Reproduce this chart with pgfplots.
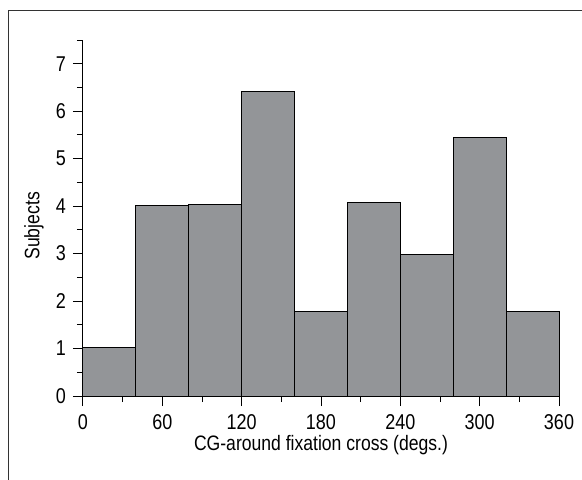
\documentclass[border=0pt]{standalone}
\usepackage{fontspec}
\setmainfont{Liberation Sans}[FakeStretch=0.84]
\usepackage{pgfplots}
\pgfplotsset{compat=1.18}
\definecolor{barfill}{HTML}{939598}
\definecolor{framegray}{HTML}{333333}
\begin{document}
\begin{tikzpicture}
\useasboundingbox (-83bp,-84bp) rectangle (499bp,396bp);
\draw[framegray, line width=1bp] (-74bp,-84bp) -- (-74bp,385bp) -- (499bp,385bp);
\begin{axis}[
  at={(0,0)}, anchor=south west,
  scale only axis,
  width=476bp, height=356bp,
  xmin=0, xmax=360, ymin=0, ymax=7.5,
  axis x line*=bottom, axis y line*=left,
  axis line style={line width=1bp, black, -},
  xtick={0,60,...,360},
  minor xtick={30,90,...,330},
  ytick={0,1,...,7},
  minor ytick={0.5,1.5,...,7.5},
  tick align=outside,
  major tick length=10bp, minor tick length=6bp,
  tick style={line width=1bp, black},
  /pgf/number format/assume math mode=true,
  ticklabel style={font=\fontsize{21.5}{24}\selectfont},
  xticklabel style={anchor=north, inner sep=0pt, yshift=-8bp},
  yticklabel style={anchor=east, inner sep=0pt, xshift=-7bp},
  label style={font=\fontsize{21}{24}\selectfont},
  xlabel={CG-around fixation cross (degs.)},
  ylabel={Subjects},
  xlabel style={at={(axis description cs:0.5,0)}, anchor=base, inner sep=0pt, yshift=-54bp},
  ylabel style={at={(axis description cs:-0.103,0.478)}, anchor=center, inner sep=0pt},
  clip=false,
]
\addplot[ybar interval, fill=barfill, draw=black, line width=1bp] coordinates {
  (0,1.03) (40,4.01) (80,4.04) (120,6.42) (160,1.79) (200,4.08) (240,2.98) (280,5.45) (320,1.79) (360,1.79)
};
\end{axis}
\end{tikzpicture}
\end{document}
